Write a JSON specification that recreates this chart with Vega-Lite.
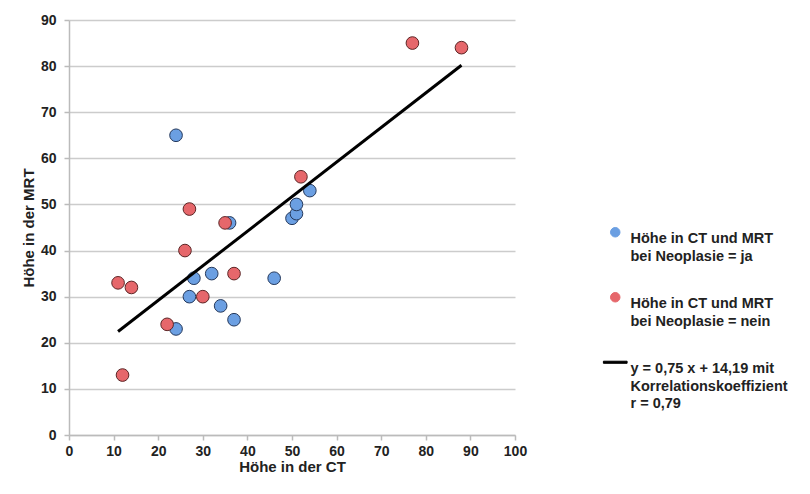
{
  "$schema": "https://vega.github.io/schema/vega-lite/v6.json",
  "width": 446,
  "height": 415,
  "autosize": {"type": "none"},
  "padding": {"left": 69, "top": 20, "right": 295, "bottom": 59},
  "background": "white",
  "config": {
    "view": {"stroke": null},
    "font": "Liberation Sans",
    "style": {"guide-label": {"lineHeight": 17.5}}
  },
  "datasets": {
    "points": [
      {"ct": 24, "mrt": 65, "series": "ja"},
      {"ct": 36, "mrt": 46, "series": "ja"},
      {"ct": 50, "mrt": 47, "series": "ja"},
      {"ct": 51, "mrt": 48, "series": "ja"},
      {"ct": 51, "mrt": 50, "series": "ja"},
      {"ct": 54, "mrt": 53, "series": "ja"},
      {"ct": 28, "mrt": 34, "series": "ja"},
      {"ct": 32, "mrt": 35, "series": "ja"},
      {"ct": 27, "mrt": 30, "series": "ja"},
      {"ct": 34, "mrt": 28, "series": "ja"},
      {"ct": 37, "mrt": 25, "series": "ja"},
      {"ct": 24, "mrt": 23, "series": "ja"},
      {"ct": 46, "mrt": 34, "series": "ja"},
      {"ct": 77, "mrt": 85, "series": "nein"},
      {"ct": 88, "mrt": 84, "series": "nein"},
      {"ct": 52, "mrt": 56, "series": "nein"},
      {"ct": 27, "mrt": 49, "series": "nein"},
      {"ct": 35, "mrt": 46, "series": "nein"},
      {"ct": 26, "mrt": 40, "series": "nein"},
      {"ct": 11, "mrt": 33, "series": "nein"},
      {"ct": 14, "mrt": 32, "series": "nein"},
      {"ct": 37, "mrt": 35, "series": "nein"},
      {"ct": 30, "mrt": 30, "series": "nein"},
      {"ct": 22, "mrt": 24, "series": "nein"},
      {"ct": 12, "mrt": 13, "series": "nein"}
    ],
    "fit": [
      {"ct": 11, "mrt": 22.44, "series": "fit"},
      {"ct": 88, "mrt": 80.19, "series": "fit"}
    ]
  },
  "layer": [
    {
      "data": {"name": "points"},
      "mark": {"type": "point", "filled": true, "size": 160, "strokeWidth": 1, "opacity": 1},
      "encoding": {
        "x": {
          "field": "ct", "type": "quantitative",
          "scale": {"domain": [0, 100], "nice": false},
          "axis": {
            "title": "Höhe in der CT", "titleFontSize": 15, "titleFontWeight": "bold", "titleColor": "#222222", "titlePadding": 1,
            "values": [0, 10, 20, 30, 40, 50, 60, 70, 80, 90, 100],
            "labelFontSize": 14, "labelFontWeight": "bold", "labelColor": "#222222", "labelPadding": 4, "labelFlush": false,
            "domainColor": "#bbbbbb", "domainWidth": 1.5, "tickColor": "#bbbbbb", "tickSize": 5, "tickWidth": 1.5, "grid": false
          }
        },
        "y": {
          "field": "mrt", "type": "quantitative",
          "scale": {"domain": [0, 90], "nice": false},
          "axis": {
            "title": "Höhe in der MRT", "titleFontSize": 15, "titleFontWeight": "bold", "titleColor": "#222222", "titlePadding": 4,
            "values": [0, 10, 20, 30, 40, 50, 60, 70, 80, 90],
            "labelFontSize": 14, "labelFontWeight": "bold", "labelColor": "#222222", "labelPadding": 8,
            "domainColor": "#bbbbbb", "domainWidth": 1.5, "tickColor": "#bbbbbb", "tickSize": 5, "tickWidth": 1.5,
            "grid": true, "gridColor": "#cccccc", "gridWidth": 1.5
          }
        },
        "stroke": {
          "field": "series", "type": "nominal",
          "scale": {"domain": ["ja", "nein", "fit"], "range": ["#25395c", "#5c2626", "#000000"]},
          "legend": null
        },
        "color": {
          "field": "series", "type": "nominal",
          "scale": {"domain": ["ja", "nein", "fit"], "range": ["#6b9fe2", "#e6676b", "#000000"]},
          "legend": {
            "title": null, "orient": "none", "legendX": 539, "legendY": 205,
            "symbolSize": 90, "symbolStrokeColor": "#333333", "symbolStrokeWidth": 1,
            "labelFontSize": 14.5, "labelFontWeight": "bold", "labelColor": "#222222",
            "labelBaseline": "top", "labelOffset": 8, "rowPadding": 26, "labelLimit": 300,
            "labelExpr": "datum.value == 'ja' ? ['Höhe in CT und MRT', 'bei Neoplasie = ja'] : datum.value == 'nein' ? ['Höhe in CT und MRT', 'bei Neoplasie = nein'] : ['y = 0,75 x + 14,19 mit', 'Korrelationskoeffizient', 'r = 0,79']"
          }
        },
        "shape": {
          "field": "series", "type": "nominal",
          "scale": {"domain": ["ja", "nein", "fit"], "range": ["circle", "circle", "M-2.5,-0.22H2.5V0.22H-2.5Z"]},
          "legend": {
            "title": null, "orient": "none", "legendX": 539, "legendY": 205,
            "symbolSize": 90, "symbolStrokeColor": "#333333", "symbolStrokeWidth": 1,
            "labelFontSize": 14.5, "labelFontWeight": "bold", "labelColor": "#222222",
            "labelBaseline": "top", "labelOffset": 8, "rowPadding": 26, "labelLimit": 300,
            "labelExpr": "datum.value == 'ja' ? ['Höhe in CT und MRT', 'bei Neoplasie = ja'] : datum.value == 'nein' ? ['Höhe in CT und MRT', 'bei Neoplasie = nein'] : ['y = 0,75 x + 14,19 mit', 'Korrelationskoeffizient', 'r = 0,79']"
          }
        }
      }
    },
    {
      "data": {"name": "fit"},
      "mark": {"type": "line", "strokeWidth": 3},
      "encoding": {
        "x": {"field": "ct", "type": "quantitative"},
        "y": {"field": "mrt", "type": "quantitative"},
        "color": {"field": "series", "type": "nominal"}
      }
    }
  ]
}
